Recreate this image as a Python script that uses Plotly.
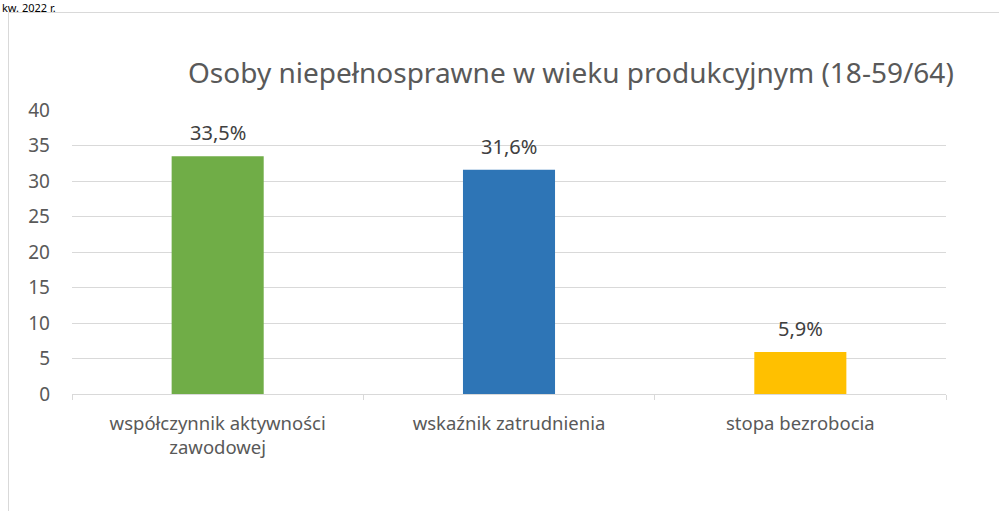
import plotly.graph_objects as go

categories = ["współczynnik aktywności<br>zawodowej", "wskaźnik zatrudnienia", "stopa bezrobocia"]
values = [33.5, 31.6, 5.9]
bar_colors = ["#70AD47", "#2E75B6", "#FFC000"]
y_ticks = [0, 5, 10, 15, 20, 25, 30, 35, 40]
title_text = "Osoby niepełnosprawne w wieku produkcyjnym (18-59/64)"
top_note = "kw. 2022 r."

W, H = 999, 511
L, R, T, B = 72, 53, 110, 117
pw, ph = W - L - R, H - T - B

FONT = "Noto Sans"

fig = go.Figure()
fig.add_trace(go.Bar(
    x=categories, y=values, marker=dict(color=bar_colors, line=dict(width=0)),
    hoverinfo="skip", showlegend=False,
))

labels = [f"{v:.1f}".replace(".", ",") + "%" for v in values]
for c, v, t in zip(categories, values, labels):
    fig.add_annotation(x=c, y=v, xref="x", yref="y", text=t, showarrow=False,
                       yanchor="bottom", yshift=8,
                       font=dict(family=FONT, size=20, color="#404040"))

# title
fig.add_annotation(x=(571 - L) / pw, y=1 + (T - 72) / ph, xref="paper", yref="paper",
                   text=title_text, showarrow=False, xanchor="center", yanchor="middle",
                   font=dict(family=FONT, size=28, color="#595959"))

# note at top
fig.add_annotation(x=(0 - L) / pw, y=1 + (T + 2) / ph, xref="paper", yref="paper",
                   text=top_note, showarrow=False, xanchor="left", yanchor="top",
                   font=dict(family=FONT, size=11, color="#000000"))

# chart frame
fig.add_shape(type="rect", xref="paper", yref="paper",
              x0=(8.5 - L) / pw, x1=(1100 - L) / pw,
              y0=-(700 - T - ph) / ph, y1=1 + (T - 12.5) / ph,
              line=dict(color="#D9D9D9", width=1), fillcolor="rgba(0,0,0,0)", layer="below")

fig.update_layout(
    width=W, height=H,
    margin=dict(l=L, r=R, t=T, b=B, pad=0),
    paper_bgcolor="white", plot_bgcolor="white",
    bargap=0.684,
    showlegend=False,
    font=dict(family=FONT, color="#595959"),
)
fig.update_xaxes(
    showgrid=False, showline=True, linecolor="#D9D9D9", linewidth=1,
    ticks="outside", tickson="boundaries", ticklen=5, tickcolor="#D9D9D9",
    ticklabelstandoff=13,
    tickfont=dict(family=FONT, size=18.5, color="#595959"),
    fixedrange=True,
)
fig.update_yaxes(
    range=[0, 40], tickvals=y_ticks, showgrid=True, gridcolor="#D9D9D9", gridwidth=1,
    zeroline=False, showline=False, ticks="", ticklabelstandoff=21,
    tickfont=dict(family=FONT, size=19, color="#595959"),
    fixedrange=True,
)

fig.write_html("out.html", config={"displayModeBar": False},
               post_script="document.body.style.margin='0';document.body.style.overflow='hidden';")
